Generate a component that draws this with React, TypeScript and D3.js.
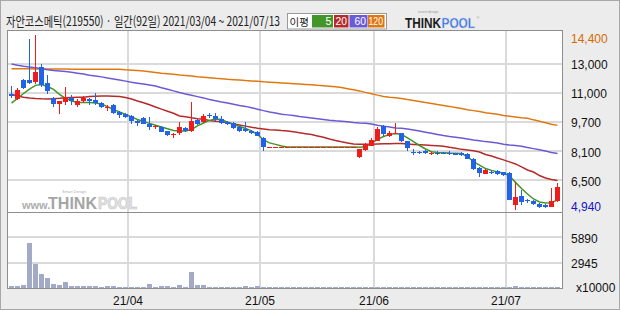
import React from "react";
import * as d3 from "d3";

// ---------- data ----------
const monthLabels = ["21/04", "21/05", "21/06", "21/07"];
const monthStart = [20, 42, 61, 83];

const PRICE_MAX = 14400;
const PRICE_MIN = 4940;
const VOL_MAX = 8835; // x10000
const priceTickLabels = ["13,000", "11,000", "9,700", "8,100", "6,500"];
const volTickLabels = ["5890", "2945"];
const maLabels = ["5", "20", "60", "120"];

const open = [
  11200, 10930, 11960, 11960, 11850, 12670, 11800, 10990, 10660, 10770,
  10990, 10610, 10800, 10930, 10880, 10710, 10440, 10610, 10200, 10120,
  10010, 9740, 9900, 9580, 9390, 9410, 9200, 8980, 9090, 9360,
  9200, 9790, 9690, 10060, 10010, 9850, 9690, 9630, 9410, 9280,
  9170, 9140, 8820, 8330, 8330, 8330, 8330, 8330, 8330, 8330,
  8330, 8330, 8330, 8330, 8330, 8330, 8330, 8330, 7790, 8170,
  8380, 8660, 9470, 8930, 9060, 9090, 8660, 8060, 8060, 8090,
  7950, 8030, 8030, 8000, 8000, 7980, 7950, 7680, 7190, 6870,
  7000, 7030, 6980, 6920, 5190, 5670, 5430, 5400, 5240, 5210,
  5080, 5400,
];
const close = [
  11090, 11420, 11530, 11800, 12400, 11690, 11370, 10660, 10800, 11040,
  10820, 10800, 11010, 10820, 10740, 10470, 10500, 10170, 10040, 9960,
  9740, 9630, 9580, 9390, 9440, 9140, 8980, 9030, 9410, 9200,
  9740, 9580, 10010, 10010, 9820, 9630, 9580, 9360, 9200, 9220,
  9110, 8930, 8330, 8330, 8330, 8330, 8330, 8330, 8330, 8330,
  8330, 8330, 8330, 8330, 8330, 8330, 8330, 8330, 8220, 8440,
  8710, 9300, 9030, 9090, 9110, 8660, 8270, 8000, 7980, 8030,
  8030, 7950, 7950, 7980, 7920, 7920, 7680, 7140, 6920, 7080,
  6950, 6870, 6810, 5460, 5620, 5350, 5380, 5240, 5080, 5080,
  5400, 6160,
];
const high = [
  11640, 11530, 12020, 14180, 14400, 12830, 12230, 11040, 10820, 11580,
  11150, 10930, 11070, 10990, 11260, 10770, 10610, 10660, 10280, 10150,
  10060, 9790, 9930, 9960, 9520, 9440, 9220, 9110, 9690, 9390,
  10770, 9850, 10120, 10170, 10150, 10010, 9740, 9660, 9470, 9690,
  9250, 9170, 8870, 8330, 8330, 8330, 8330, 8330, 8330, 8330,
  8330, 8330, 8330, 8330, 8330, 8330, 8330, 8330, 8220, 8520,
  8820, 9390, 9500, 9200, 9630, 9110, 8680, 8220, 8110, 8170,
  8060, 8090, 8060, 8090, 8000, 8060, 7980, 7710, 7220, 7160,
  7060, 7080, 7000, 6950, 6450, 6000, 5510, 5430, 5290, 5240,
  6110, 6380,
];
const low = [
  10990, 10880, 11470, 11740, 11740, 11580, 11200, 10500, 10120, 10610,
  10610, 10500, 10710, 10610, 10610, 10440, 10280, 10120, 9900, 9900,
  9580, 9470, 9550, 9250, 9280, 9120, 8900, 8840, 8980, 9140,
  9140, 9520, 9630, 9900, 9740, 9580, 9520, 9330, 9140, 9140,
  9030, 8900, 8110, 8330, 8330, 8330, 8330, 8330, 8330, 8330,
  8330, 8330, 8330, 8330, 8330, 8330, 8330, 8330, 7730, 8110,
  8360, 8630, 8950, 8870, 9010, 8600, 8110, 7900, 7950, 7950,
  7920, 7920, 7950, 7920, 7920, 7840, 7680, 7080, 6700, 6840,
  6890, 6810, 6760, 5430, 4940, 5210, 5290, 5210, 5020, 5000,
  5050, 5350,
];
const volume = [
  200, 200, 310, 5270, 2830, 1570, 1140, 470, 390, 670,
  200, 200, 200, 200, 200, 150, 200, 200, 150, 150,
  120, 150, 120, 470, 100, 200, 200, 100, 310, 120,
  1890, 350, 350, 80, 80, 80, 80, 80, 80, 200,
  80, 200, 150, 0, 0, 0, 0, 0, 0, 0,
  0, 0, 0, 0, 0, 0, 0, 0, 90, 90,
  90, 90, 90, 90, 90, 90, 90, 90, 90, 90,
  90, 90, 90, 90, 90, 90, 90, 90, 90, 90,
  90, 90, 90, 100, 200, 100, 90, 90, 90, 90,
  90, 90,
];
const ma5 = [
  10710, 10960, 11230, 11470, 11670, 11720, 11610, 11450, 11180, 10960,
  10820, 10740, 10740, 10740, 10710, 10660, 10520, 10360, 10230, 10090,
  9960, 9820, 9710, 9610, 9510, 9410, 9320, 9220, 9200, 9200,
  9280, 9470, 9630, 9770, 9850, 9820, 9680, 9550, 9440, 9330,
  9200, 9010, 8710, 8550, 8470, 8380, 8330, 8330, 8330, 8330,
  8330, 8330, 8330, 8330, 8330, 8330, 8330, 8330, 8310, 8340,
  8520, 8740, 8900, 9010, 9060, 9010, 8820, 8620, 8410, 8220,
  8070, 8030, 8020, 8000, 7990, 7980, 7800, 7530, 7350, 7160,
  7060, 6970, 6920, 6760, 6410, 6080, 5780, 5510, 5350, 5290,
  5310, 5460,
];
const ma20 = [
  11190, 11090, 11030, 10990, 10960, 10940, 10930, 10950, 10970, 11000,
  11010, 11020, 11030, 11060, 11080, 11090, 11090, 11080, 11070, 11010,
  10930, 10820, 10730, 10620, 10500, 10380, 10270, 10160, 10010, 9970,
  9910, 9860, 9830, 9770, 9730, 9710, 9640, 9580, 9520, 9460,
  9400, 9350, 9310, 9270, 9250, 9220, 9200, 9150, 9100, 9050,
  9000, 8930, 8860, 8760, 8680, 8610, 8550, 8490, 8480, 8480,
  8480, 8490, 8500, 8510, 8520, 8520, 8490, 8470, 8450, 8430,
  8410, 8390, 8370, 8310, 8260, 8200, 8170, 8130, 8060, 7920,
  7840, 7730, 7630, 7520, 7410, 7250, 7080, 6970, 6780, 6650,
  6570, 6510,
];
const ma60 = [
  12830, 12760, 12710, 12670, 12620, 12570, 12520, 12480, 12450, 12420,
  12380, 12330, 12280, 12220, 12180, 12130, 12070, 12020, 11960, 11900,
  11840, 11790, 11740, 11690, 11630, 11540, 11460, 11370, 11280, 11200,
  11130, 11060, 10990, 10900, 10840, 10770, 10710, 10650, 10580, 10530,
  10460, 10380, 10300, 10230, 10170, 10110, 10070, 10030, 9980, 9940,
  9900, 9860, 9820, 9780, 9750, 9730, 9700, 9660, 9630, 9610,
  9570, 9510, 9460, 9410, 9360, 9340, 9310, 9250, 9190, 9130,
  9070, 9010, 8950, 8900, 8860, 8810, 8760, 8710, 8670, 8620,
  8580, 8540, 8480, 8440, 8410, 8370, 8300, 8240, 8180, 8110,
  8030, 7980,
];
const ma120 = [
  12570, 12570, 12570, 12570, 12560, 12560, 12560, 12560, 12560, 12560,
  12550, 12550, 12550, 12550, 12550, 12550, 12540, 12540, 12540, 12510,
  12490, 12470, 12450, 12410, 12370, 12330, 12300, 12270, 12230, 12210,
  12180, 12140, 12110, 12080, 12050, 12030, 12000, 11980, 11960, 11930,
  11910, 11890, 11860, 11840, 11820, 11800, 11780, 11760, 11740, 11720,
  11700, 11670, 11650, 11620, 11590, 11550, 11490, 11430, 11370, 11290,
  11220, 11140, 11070, 11030, 11000, 10960, 10900, 10850, 10800, 10740,
  10690, 10630, 10580, 10530, 10470, 10410, 10350, 10300, 10250, 10190,
  10150, 10100, 10040, 10000, 9960, 9920, 9890, 9800, 9720, 9640,
  9560, 9500,
];

// ---------- styles ----------
const RED = "#f01c1c";
const BLUE = "#2262e4";
const MA_COLORS = ["#43952a", "#b52a2a", "#6b5ad6", "#e07812"];
const GRID = "#dadada";
const SANS = "'Liberation Sans', Arial, sans-serif";
const KR = "'Noto Sans CJK KR', 'Noto Sans', sans-serif";

// horizontally condensed text: natural width `nat` squeezed into `w`
function Squeezed(props: {
  x: number;
  y: number;
  w: number;
  nat: number;
  children: React.ReactNode;
  [k: string]: any;
}) {
  const { x, y, w, nat, children, ...rest } = props;
  const s = w / nat;
  return (
    <g transform={`translate(${x},${y}) scale(${s},1)`}>
      <text x={0} y={0} textLength={nat} lengthAdjust="spacingAndGlyphs" {...rest}>
        {children}
      </text>
    </g>
  );
}

export default function App() {
  const N = open.length;
  const x = d3.scaleLinear().domain([0, N]).range([8, 560]);
  const cx = (i: number) => x(i) + 3.5;
  const y = d3.scaleLinear().domain([PRICE_MIN, PRICE_MAX]).range([209.5, 35]);
  const yv = d3.scaleLinear().domain([0, VOL_MAX]).range([288, 212]);

  const priceTicks = d3.range(1, 6).map((k) => PRICE_MAX - ((PRICE_MAX - PRICE_MIN) * k) / 6);
  const volTicks = [(VOL_MAX * 2) / 3, VOL_MAX / 3];

  const lineGen = d3
    .line<number>()
    .x((_, i) => cx(i))
    .y((d) => y(d));
  const mas = [ma5, ma20, ma60, ma120];

  // legend boxes: [x, width, label text width]
  const legendBoxes = [
    [312, 21, 6],
    [334, 14.5, 11.5],
    [349.5, 18, 11.5],
    [368, 16.5, 14.5],
  ];

  return (
    <svg width={620} height={310} style={{ position: "absolute", left: 0, top: 0 }}>
      <rect x={0} y={0} width={620} height={310} fill="#ececec" />
      <rect x={0.5} y={0.5} width={619} height={309} fill="none" stroke="#a8a8a8" />

      {/* title */}
      <Squeezed x={6} y={26} w={274} nat={353} fontFamily={KR} fontSize={13} fill="#222">
        자안코스메틱(219550) · 일간(92일) 2021/03/04 ~ 2021/07/13
      </Squeezed>

      {/* MA legend */}
      <rect x={287.5} y={13.5} width={99} height={15.5} fill="#fff" stroke="#9a9a9a" />
      <text x={289.5} y={25.5} fontFamily={KR} fontSize={10.5} fill="#222">
        이평
      </text>
      {legendBoxes.map(([bx, bw, tw], k) => (
        <g key={k}>
          <rect x={bx} y={15} width={bw} height={12.5} fill={MA_COLORS[k]} />
          <text
            x={bx + bw - 1.5 - tw}
            y={25}
            fontFamily={SANS}
            fontSize={11}
            fill="#fff"
            textLength={tw}
            lengthAdjust="spacingAndGlyphs"
          >
            {maLabels[k]}
          </text>
        </g>
      ))}

      {/* THINKPOOL logo */}
      <text x={418} y={13.2} fontFamily={SANS} fontSize={3.5} fill="#9a9a9a">invest design</text>
      <Squeezed x={405} y={28} w={36} nat={45.8} fontFamily={SANS} fontSize={15} fontWeight={900} fill="#1d1d1d">
        THINK
      </Squeezed>
      <Squeezed
        x={441.5}
        y={28}
        w={33.5}
        nat={42.5}
        fontFamily={SANS}
        fontSize={15}
        fontWeight={900}
        fill="#2f67dc"
        stroke="#c9d6f3"
        strokeWidth={0.6}
      >
        POOL
      </Squeezed>
      <text x={476.5} y={19} fontFamily={SANS} fontSize={4} fill="#9a9a9a">®</text>

      {/* panel */}
      <rect x={7.5} y={30.5} width={555} height={258} fill="#fff" />

      {/* watermark */}
      <g>
        <text x={62} y={193} fontFamily={SANS} fontSize={4} fill="#b0b0b0">Smart Design</text>
        <text x={22} y={208.5} fontFamily={SANS} fontSize={11} fontWeight={700} fill="#adadad">www.</text>
        <text x={48} y={208.5} fontFamily={SANS} fontSize={16} fontWeight={900} fill="#a5a5a5" textLength={49} lengthAdjust="spacingAndGlyphs">THINK</text>
        <Squeezed
          x={98}
          y={208.5}
          w={39}
          nat={45.3}
          fontFamily={SANS}
          fontSize={16}
          fontWeight={900}
          fill="#e6e6e6"
          stroke="#c4c4c4"
          strokeWidth={0.7}
        >
          POOL
        </Squeezed>
      </g>

      {/* grid */}
      {priceTicks.map((t, k) => (
        <line key={"pg" + k} x1={8} x2={562} y1={Math.round(y(t))} y2={Math.round(y(t))} stroke={GRID} strokeWidth={2} />
      ))}
      {volTicks.map((t, k) => (
        <line key={"vg" + k} x1={8} x2={562} y1={Math.round(yv(t))} y2={Math.round(yv(t))} stroke={GRID} strokeWidth={2} />
      ))}
      {monthStart.map((m, k) => (
        <line key={"mg" + k} x1={x(m)} x2={x(m)} y1={31} y2={288} stroke={GRID} strokeWidth={2} />
      ))}

      {/* moving averages */}
      <clipPath id="clipPrice">
        <rect x={8} y={31} width={554} height={181} />
      </clipPath>
      <g clipPath="url(#clipPrice)">
        {mas
          .slice()
          .reverse()
          .map((arr, k) => (
            <path key={"ma" + k} d={lineGen(arr) || ""} fill="none" stroke={MA_COLORS[3 - k]} strokeWidth={1.5} />
          ))}
      </g>

      {/* candles */}
      {open.map((o, i) => {
        const c = close[i];
        const up = c >= o;
        const col = up ? RED : BLUE;
        const top = Math.min(y(o), y(c));
        const h = Math.max(1, Math.abs(y(o) - y(c)));
        return (
          <g key={"c" + i} shapeRendering="crispEdges">
            <line x1={cx(i)} x2={cx(i)} y1={y(high[i])} y2={y(low[i])} stroke={col} strokeWidth={1} />
            <rect x={cx(i) - 2.5} y={top} width={5} height={h} fill={col} />
          </g>
        );
      })}

      {/* volume */}
      {volume.map((v, i) => {
        const h = Math.max(1.5, 288 - yv(v));
        return (
          <rect key={"v" + i} x={cx(i) - 2.5} y={288 - h} width={5} height={h} fill="#a2aac6" shapeRendering="crispEdges" />
        );
      })}

      {/* panel borders */}
      <rect x={7.5} y={30.5} width={555} height={258} fill="none" stroke="#8e8e8e" />
      <line x1={8} x2={562} y1={212.5} y2={212.5} stroke="#8e8e8e" />

      {/* right axis labels */}
      <text x={571} y={39} dy="0.35em" fontFamily={SANS} fontSize={12} fill="#d46a00">14,400</text>
      {priceTicks.map((t, k) => (
        <text key={"pl" + k} x={571} y={y(t) + 1} dy="0.35em" fontFamily={SANS} fontSize={12} fill="#111">
          {priceTickLabels[k]}
        </text>
      ))}
      <text x={571} y={207} dy="0.35em" fontFamily={SANS} fontSize={12} fill="#1414c8">4,940</text>
      {volTicks.map((t, k) => (
        <text key={"vl" + k} x={571} y={yv(t) + 1.5} dy="0.35em" fontFamily={SANS} fontSize={12} fill="#111">
          {volTickLabels[k]}
        </text>
      ))}
      <text x={576} y={288} dy="0.35em" fontFamily={SANS} fontSize={12} fill="#111">x10000</text>

      {/* month labels */}
      {monthStart.map((m, k) => (
        <text key={"ml" + k} x={x(m)} y={301} dy="0.35em" textAnchor="middle" fontFamily={SANS} fontSize={12} fill="#111">
          {monthLabels[k]}
        </text>
      ))}
    </svg>
  );
}
